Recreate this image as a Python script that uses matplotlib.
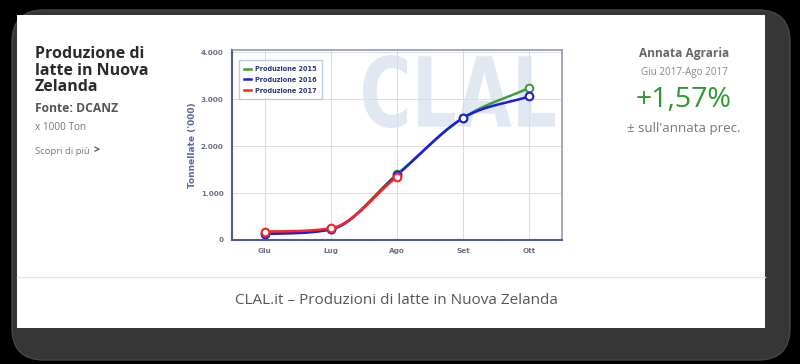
import numpy as np
import matplotlib
matplotlib.use("Agg")
import matplotlib.pyplot as plt
from matplotlib.patches import FancyBboxPatch, Rectangle, PathPatch
from matplotlib.lines import Line2D
from matplotlib.textpath import TextPath
from matplotlib.font_manager import FontProperties
from matplotlib.transforms import Affine2D

months = ["Giu", "Lug", "Ago", "Set", "Ott"]
prod_2015 = [140, 235, 1400, 2600, 3240]
prod_2016 = [130, 225, 1385, 2600, 3060]
prod_2017 = [180, 250, 1350]
series_names = ["Produzione 2015", "Produzione 2016", "Produzione 2017"]
yticks = [0, 1000, 2000, 3000, 4000]
ytick_labels = ["0", "1.000", "2.000", "3.000", "4.000"]

colors = ["#3c9e3c", "#1c1ce0", "#ff2222"]

def smooth(xs, ys, n=40):
    """Catmull-Rom tangents with Fritsch-Carlson limiting (monotone)."""
    x = np.asarray(xs, float); y = np.asarray(ys, float)
    h = np.diff(x); d = np.diff(y) / h
    m = np.zeros_like(y)
    m[0] = d[0]; m[-1] = d[-1]
    for k in range(1, len(y) - 1):
        m[k] = (y[k+1] - y[k-1]) / (x[k+1] - x[k-1])
    for k in range(len(d)):
        if d[k] == 0:
            m[k] = m[k+1] = 0
            continue
        a = m[k] / d[k]; b = m[k+1] / d[k]
        s = a*a + b*b
        if s > 9:
            tau = 3 / np.sqrt(s)
            m[k] = tau * a * d[k]; m[k+1] = tau * b * d[k]
    ox, oy = [], []
    for k in range(len(y) - 1):
        t = np.linspace(0, 1, n)
        h00 = 2*t**3 - 3*t**2 + 1; h10 = t**3 - 2*t**2 + t
        h01 = -2*t**3 + 3*t**2; h11 = t**3 - t**2
        oy.extend(h00*y[k] + h10*h[k]*m[k] + h01*y[k+1] + h11*h[k]*m[k+1])
        ox.extend(x[k] + t*h[k])
    return np.array(ox), np.array(oy)

W, H = 800, 364
fig = plt.figure(figsize=(8, 3.64), dpi=100)
fig.patch.set_facecolor("black")

def fx(x): return x / W
def fy(y): return 1 - y / H

frame = FancyBboxPatch((fx(12), fy(360)), fx(790-12), (360-10)/H,
                       boxstyle="round,pad=0,rounding_size=0.04",
                       transform=fig.transFigure, facecolor="#363636",
                       edgecolor="#474747", lw=1, mutation_aspect=W/H, zorder=-3)
fig.patches.append(frame)
card = Rectangle((fx(17), fy(328)), fx(765-17), (328-15)/H,
                 transform=fig.transFigure, facecolor="white", edgecolor="none", zorder=-2)
fig.patches.append(card)
fig.add_artist(Line2D([fx(17), fx(765)], [fy(277), fy(277)], color="#e6e6e6", lw=1, zorder=-1))

ax = fig.add_axes([fx(232), fy(240), fx(562-232), (240-50)/H])
ax.set_facecolor("white")
ax.set_xlim(-0.5, 4.5)
ax.set_ylim(0, 4050)
ax.set_yticks(yticks)
ax.set_yticklabels(ytick_labels)
ax.set_xticks(range(len(months)))
ax.set_xticklabels(months)
ax.grid(True, color="#dcdcdc", lw=0.7, zorder=0.6)
ax.set_axisbelow(True)
for side in ["left", "bottom"]:
    ax.spines[side].set_color("#4e5a92")
    ax.spines[side].set_linewidth(1.5)
for side in ["top", "right"]:
    ax.spines[side].set_color("#8790b8")
    ax.spines[side].set_linewidth(1.1)
ax.tick_params(length=0, labelsize=5.2, labelcolor="#6a6f88", pad=6)
for lab in ax.get_xticklabels() + ax.get_yticklabels():
    lab.set_fontweight("bold")
ax.set_ylabel("Tonnellate ('000)", fontsize=6.5, fontweight="bold", color="#5a6a9a", labelpad=3)

# watermark "CLAL"
tp = TextPath((0, 0), "CLAL", size=1, prop=FontProperties(family="DejaVu Sans", weight="bold"))
ext = tp.get_extents()
sx = (192 / W) / ext.width
sy = (73 / H) / ext.height
tr = Affine2D().translate(-ext.x0, -ext.y0).scale(sx, sy).translate(fx(363), fy(128)) + fig.transFigure
wm = PathPatch(tp, transform=tr, facecolor="#e2e8f2", edgecolor="none", zorder=0.4)
ax.add_patch(wm)
wm.set_clip_path(ax.patch)

handles = []
for vals, c, name in zip([prod_2015, prod_2016, prod_2017], colors, series_names):
    x = np.arange(len(vals))
    sxs, sys_ = smooth(x, vals)
    ax.plot(sxs, sys_, color=c, lw=1.8, zorder=3)
    ax.plot(x, vals, "o", ms=5.5, mfc="white", mec=c, mew=1.5, zorder=4)
    handles.append(Line2D([], [], color=c, lw=1.8, label=name))

leg = ax.legend(handles=handles, loc="upper left", fontsize=4.7, frameon=True,
                fancybox=False, handlelength=1.0, handletextpad=0.6, borderpad=0.9,
                labelspacing=0.75, bbox_to_anchor=(0.01, 0.965))
leg.get_frame().set_edgecolor("#a9c3da")
leg.get_frame().set_linewidth(1.0)
for t in leg.get_texts():
    t.set_color("#2a3680")
    t.set_fontweight("bold")

fam = "Open Sans"
fig.text(fx(35), fy(46), "Produzione di\nlatte in Nuova\nZelanda", fontsize=11.5,
         fontweight="bold", color="#2a2a2a", va="top", ha="left", family=fam, linespacing=1.05)
fig.text(fx(35), fy(108), "Fonte: DCANZ", fontsize=8.7, fontweight="bold", color="#555555",
         va="center", family=fam)
fig.text(fx(35), fy(127), "x 1000 Ton", fontsize=7.2, color="#777777", va="center", family=fam)
fig.text(fx(35), fy(151), "Scopri di più", fontsize=6.8, color="#777777", va="center", family=fam)
fig.text(fx(93), fy(151), ">", fontsize=7.5, fontweight="bold", color="#444444", va="center", family=fam)

cx = 684
fig.text(fx(cx), fy(54), "Annata Agraria", fontsize=8.6, fontweight="bold", color="#666666",
         ha="center", va="center", family=fam)
fig.text(fx(cx), fy(72), "Giu 2017-Ago 2017", fontsize=7.1, color="#888888",
         ha="center", va="center", family=fam)
fig.text(fx(cx), fy(100), "+1,57%", fontsize=20.5, color="#2c9a2c",
         ha="center", va="center", family=fam)
fig.text(fx(cx), fy(128), "± sull'annata prec.", fontsize=9.5, color="#777777",
         ha="center", va="center", family=fam)

fig.text(fx(396), fy(301), "CLAL.it – Produzioni di latte in Nuova Zelanda", fontsize=11,
         color="#555555", ha="center", va="center", family=fam)

fig.savefig("out.png", dpi=100, facecolor=fig.get_facecolor())
